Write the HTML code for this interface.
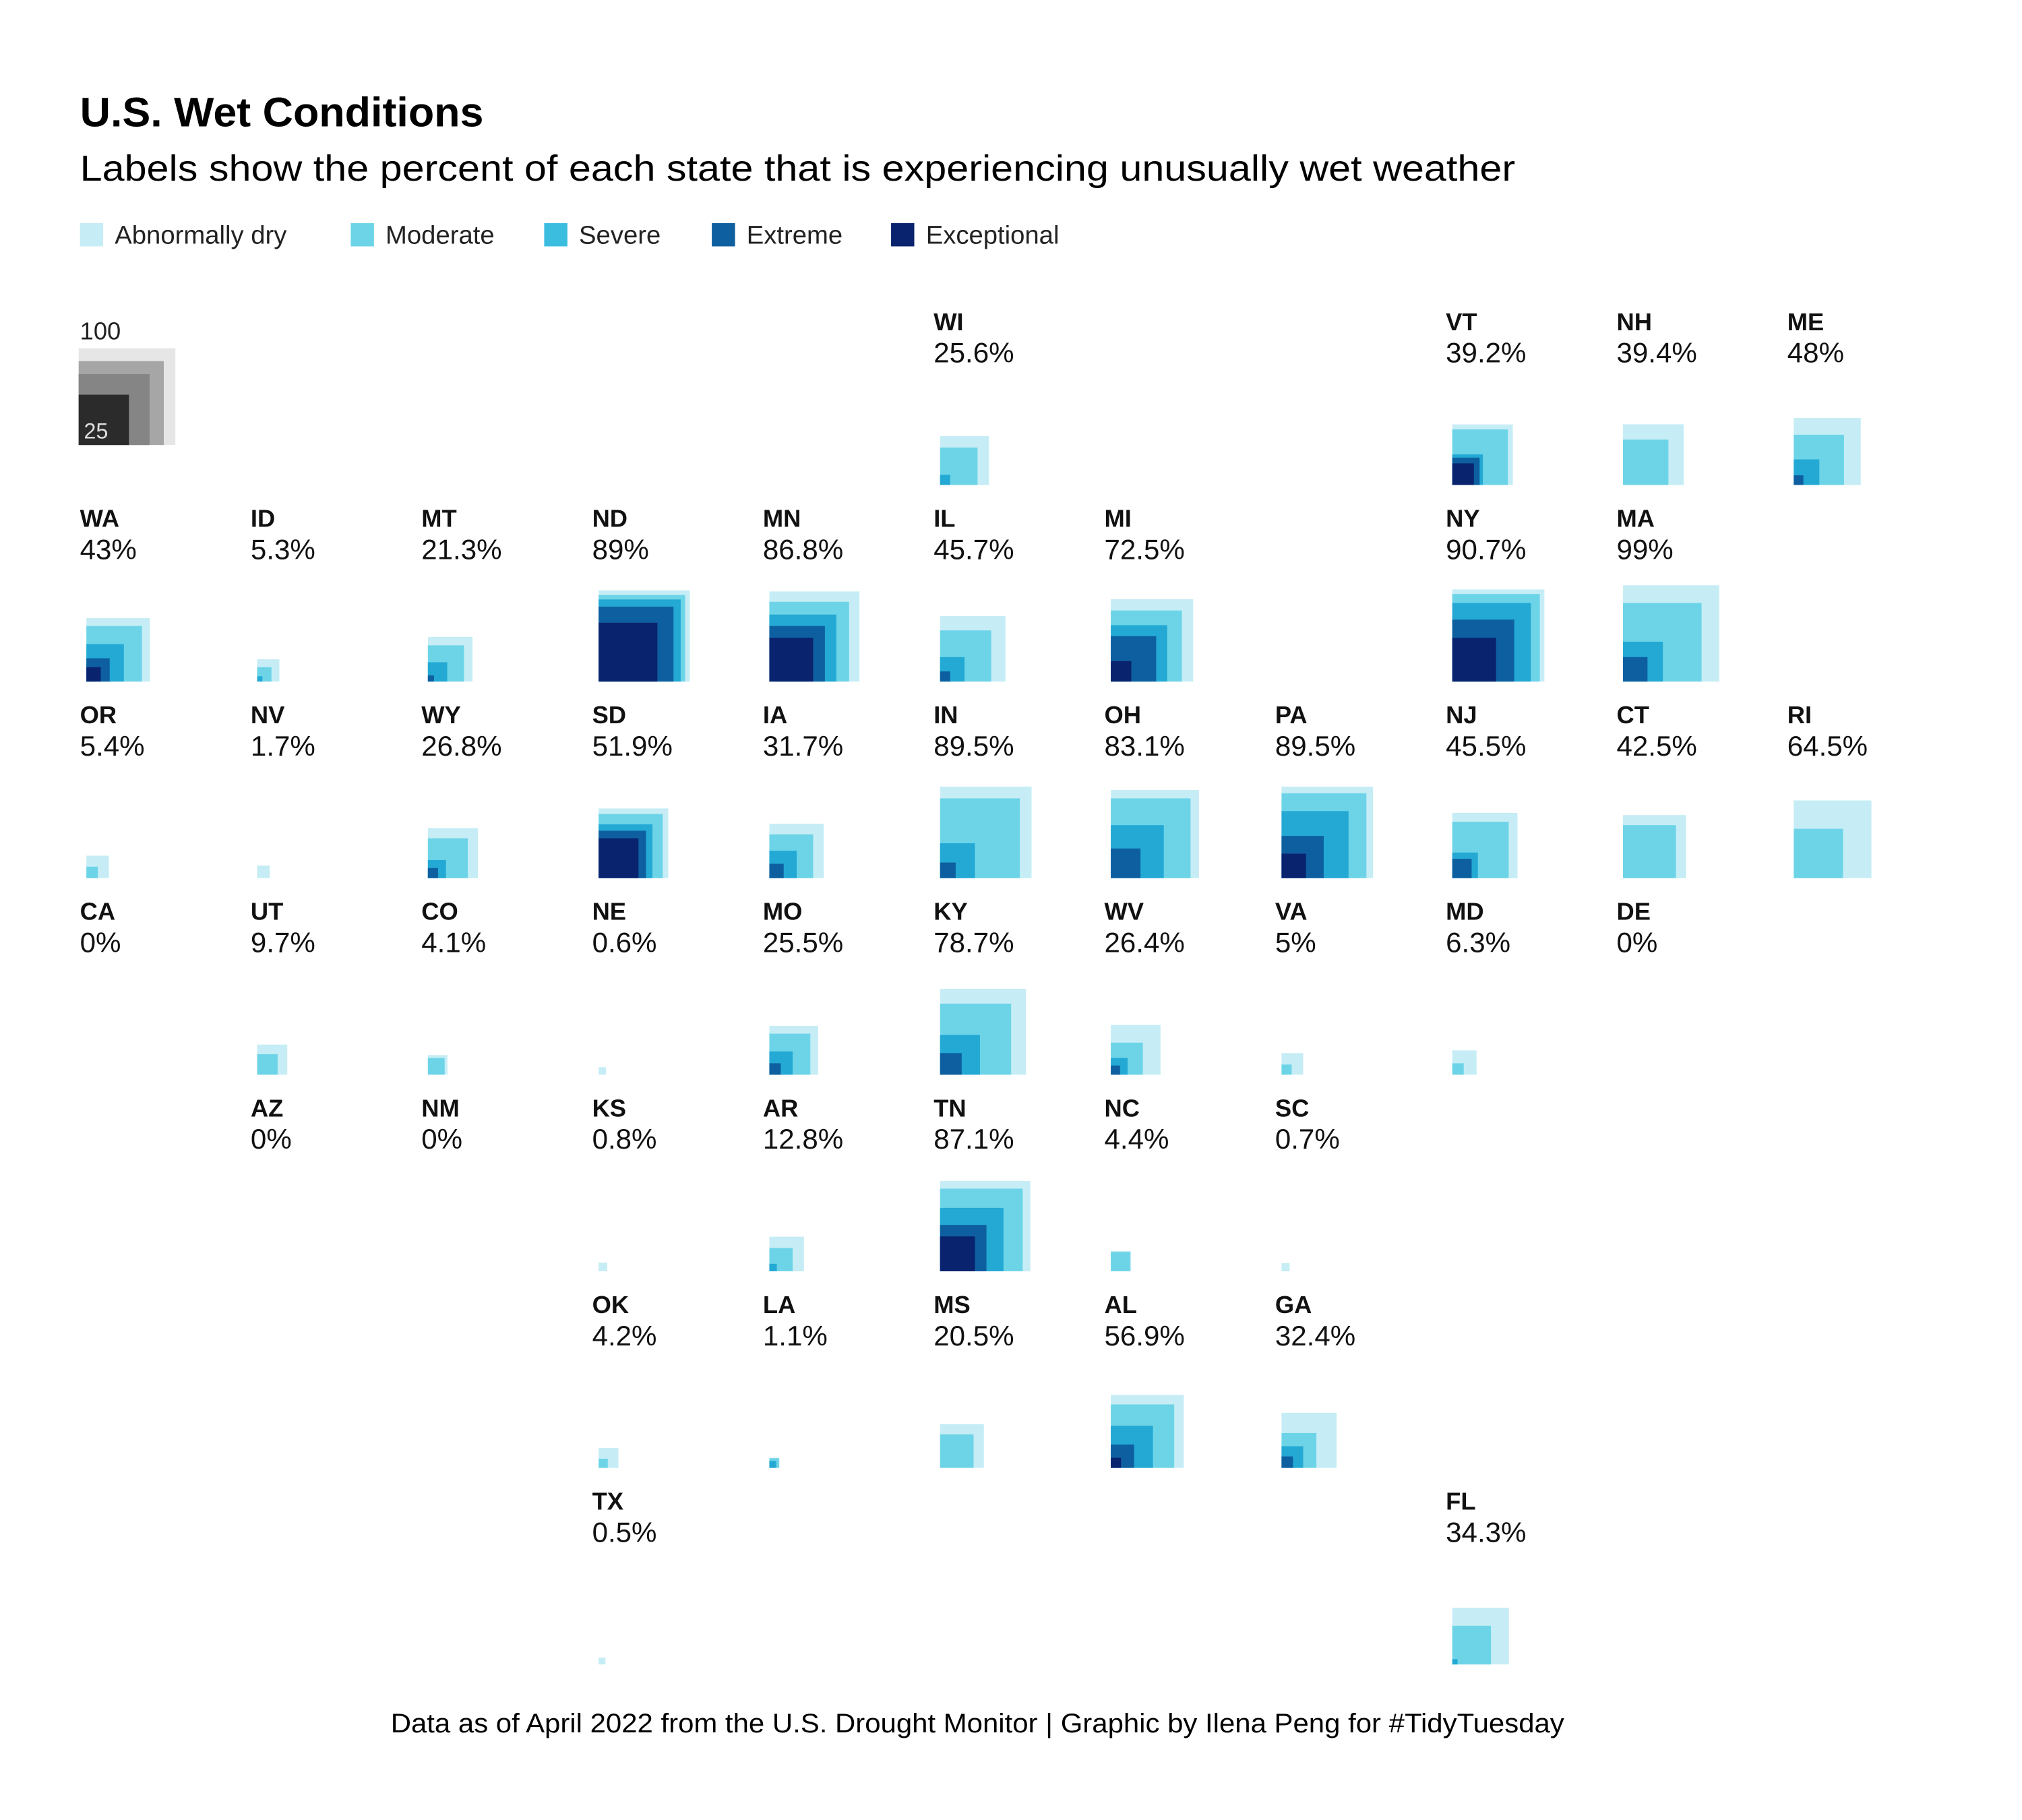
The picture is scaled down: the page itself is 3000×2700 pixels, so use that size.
<!DOCTYPE html>
<html><head><meta charset="utf-8"><style>
html,body{margin:0;padding:0;background:#fff;}
svg{display:block;font-family:"Liberation Sans",sans-serif;}
</style></head><body>
<svg id="chart" width="3000" height="2700" viewBox="0 0 1568 1411" preserveAspectRatio="none" xmlns="http://www.w3.org/2000/svg">
<rect width="1568" height="1411" fill="#fff"/>
<text x="62" y="98" font-size="32" font-weight="bold" textLength="313" lengthAdjust="spacingAndGlyphs">U.S. Wet Conditions</text>
<text x="62" y="140" font-size="28" textLength="1113" lengthAdjust="spacingAndGlyphs">Labels show the percent of each state that is experiencing unusually wet weather</text>
<g id="legend"></g>
<g id="key">
<rect x="61" y="270" width="75" height="75" fill="#e6e6e6"/>
<rect x="61" y="280" width="66" height="65" fill="#a6a6a6"/>
<rect x="61" y="290" width="55" height="55" fill="#858585"/>
<rect x="61" y="306" width="39" height="39" fill="#2b2b2b"/>
<text x="62" y="263" font-size="19" fill="#222">100</text>
<text x="65" y="340" font-size="17" fill="#ddd">25</text>
</g>
<g id="grid"></g>
<text x="758" y="1343" font-size="21" text-anchor="middle" textLength="910" lengthAdjust="spacingAndGlyphs">Data as of April 2022 from the U.S. Drought Monitor | Graphic by Ilena Peng for #TidyTuesday</text>
</svg>
<script>
const categories = ["Abnormally dry","Moderate","Severe","Extreme","Exceptional"];
const colors = ["#c6edf5","#6dd4e8","#23a9d3","#0e5fa0","#09236e"];
const states = ["WI","VT","NH","ME","WA","ID","MT","ND","MN","IL","MI","NY","MA","OR","NV","WY","SD","IA","IN","OH","PA","NJ","CT","RI","CA","UT","CO","NE","MO","KY","WV","VA","MD","DE","AZ","NM","KS","AR","TN","NC","SC","OK","LA","MS","AL","GA","TX","FL"];
const gridCol = [5,8,9,10,0,1,2,3,4,5,6,8,9,0,1,2,3,4,5,6,7,8,9,10,0,1,2,3,4,5,6,7,8,9,1,2,3,4,5,6,7,3,4,5,6,7,3,8];
const gridRow = [0,0,0,0,1,1,1,1,1,1,1,1,1,2,2,2,2,2,2,2,2,2,2,2,3,3,3,3,3,3,3,3,3,3,4,4,4,4,4,4,4,5,5,5,5,5,6,6];
const d0 = [25.6,39.2,39.4,48,43,5.3,21.3,89,86.8,45.7,72.5,90.7,99,5.4,1.7,26.8,51.9,31.7,89.5,83.1,89.5,45.5,42.5,64.5,0,9.7,4.1,0.6,25.5,78.7,26.4,5,6.3,0,0,0,0.8,12.8,87.1,4.4,0.7,4.2,1.1,20.5,56.9,32.4,0.5,34.3];
const d1 = [15,33,22,27,33,2.2,14,80,68,28,54,82,66,1.4,0,17,44,20.5,68,68,77,34,30,26,0,4.5,3,0,18,54,11,1.1,1.4,0,0,0,0,5.8,73,4,0,0.9,1,12,43,13,0,16];
const d2 = [1.1,10,0,7,15,0.3,4,72,48,6.4,34,66,17,0,0,3.5,31,8,13,30,48,7,0,0,0,0,0,0,5.8,17,3,0,0,0,0,0,0,0.6,43,0,0,0,0.5,0,19,5,0,0.3];
const d3 = [0,8,0,1,5.8,0,0.4,60,33,1.1,22,41,6.4,0,0,1.1,24,2.2,2.6,9.4,19,4,0,0,0,0,0,0,1.4,5,0.9,0,0,0,0,0,0,0,23,0,0,0,0,0,5.8,1.4,0,0];
const d4 = [0,5,0,0,2.2,0,0,37,20.5,0,4.5,20.5,0,0,0,0,17,0,0,0,6.4,0,0,0,0,0,0,0,0,0,0,0,0,0,0,0,0,0,13,0,0,0,0,0,1.1,0,0,0];
const series = [d0,d1,d2,d3,d4];

const NS = "http://www.w3.org/2000/svg";
function mk(tag, attrs, parent){const e=document.createElementNS(NS,tag);for(const k in attrs)e.setAttribute(k,attrs[k]);parent.appendChild(e);return e;}
const xCol = c => 62 + c*132.4;
const yRow = r => 240 + r*152.4;
const side = v => 7.5*Math.sqrt(v);

const legend = document.getElementById('legend');
const legX = [62,272,422,552,691];
categories.forEach((c,i)=>{
  const r = mk('rect',{x:legX[i],y:173,width:18,height:18,fill:i===2?"#3bbde0":colors[i]},legend);
  
  
  const t = mk('text',{x:legX[i]+27,y:189,'font-size':20,fill:'#222'},legend);
  t.textContent = c;
  
  
});

const grid = document.getElementById('grid');
states.forEach((s,i)=>{
  const g = mk('g',{},grid);
  
  
  const x = xCol(gridCol[i]), y = yRow(gridRow[i]);
  const a = mk('text',{x:x,y:y+16,'font-size':19,'font-weight':'bold',fill:'#111'},g);
  a.textContent = s;
  
  
  const p = mk('text',{x:x,y:y+41,'font-size':22,fill:'#111'},g);
  p.textContent = d0[i]+'%';
  
  
  const base = y + 136;
  series.forEach((arr,k)=>{
    const v = arr[i]; if(!(v>0)) return;
    const w = side(v);
    const r = mk('rect',{x:x+5,y:base-w,width:w,height:w,fill:colors[k]},g);
    
    
  });
});
</script>
</body></html>
